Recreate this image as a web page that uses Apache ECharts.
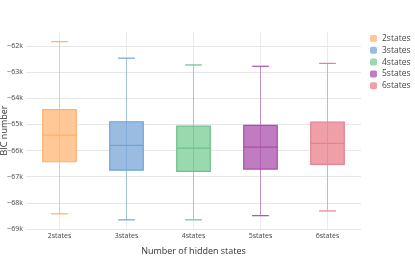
<!DOCTYPE html>
<html><head><meta charset="utf-8">
<script src="https://cdn.jsdelivr.net/npm/echarts@6/dist/echarts.min.js"></script>
<style>html,body{margin:0;padding:0;background:#fff}#c{width:415px;height:256px}</style>
</head><body><div id="c"></div>
<script>
const categories = ['2states','3states','4states','5states','6states'];
// [min, q1, median, q3, max]
const s2 = [-68420, -66430, -65410, -64440, -61840];
const s3 = [-68650, -66750, -65800, -64900, -62470];
const s4 = [-68650, -66800, -65910, -65070, -62730];
const s5 = [-68490, -66710, -65870, -65040, -62780];
const s6 = [-68310, -66530, -65730, -64910, -62670];
const yTicks = [-69000, -68000, -67000, -66000, -65000, -64000, -63000, -62000];
const stats = [s2, s3, s4, s5, s6];
const fills = ['#ffc896', '#9abce0', '#9ad8ae', '#c07cc0', '#ee9fa8'];
const strokes = ['#fdb070', '#6fa3d6', '#6cc08a', '#a850a8', '#e8808d'];

const chart = echarts.init(document.getElementById('c'), null, {renderer: 'canvas'});
const font = '"Open Sans", sans-serif';

function renderItem(params, api) {
  const x = api.value(0);
  const band = api.size([1, 0])[0];
  const bw = band * 0.5, cw = band * 0.25;
  const pMin = api.coord([x, api.value(1)]);
  const pQ1 = api.coord([x, api.value(2)]);
  const pMed = api.coord([x, api.value(3)]);
  const pQ3 = api.coord([x, api.value(4)]);
  const pMax = api.coord([x, api.value(5)]);
  const cx = pMin[0];
  const i = params.seriesIndex;
  const st = strokes[i];
  return {
    type: 'group',
    children: [
      {type: 'rect', shape: {x: cx - bw / 2, y: pQ3[1], width: bw, height: pQ1[1] - pQ3[1]},
        style: {fill: fills[i], stroke: st, lineWidth: 1.2}},
      {type: 'line', shape: {x1: cx, y1: pMax[1], x2: cx, y2: pMin[1]},
        style: {stroke: st, lineWidth: 1, opacity: 0.6}},
      {type: 'line', shape: {x1: cx - bw / 2, y1: pMed[1], x2: cx + bw / 2, y2: pMed[1]},
        style: {stroke: st, lineWidth: 1.2}},
      {type: 'line', shape: {x1: cx - cw / 2, y1: pMax[1], x2: cx + cw / 2, y2: pMax[1]},
        style: {stroke: st, lineWidth: 1.2}},
      {type: 'line', shape: {x1: cx - cw / 2, y1: pMin[1], x2: cx + cw / 2, y2: pMin[1]},
        style: {stroke: st, lineWidth: 1.2}}
    ]
  };
}

const series = categories.map((c, i) => ({
  name: c,
  type: 'custom',
  renderItem: renderItem,
  itemStyle: {color: fills[i]},
  encode: {x: 0, y: [1, 2, 3, 4, 5]},
  data: [[i].concat(stats[i])]
}));

chart.setOption({
  animation: false,
  textStyle: {fontFamily: font},
  grid: {left: 26, right: 54, top: 32, bottom: 27, containLabel: false, outerBoundsMode: 'none'},
  legend: {
    orient: 'vertical', left: 365, top: 29,
    itemWidth: 7, itemHeight: 7, itemGap: 2.8, icon: 'roundRect',
    textStyle: {fontSize: 8.5, color: '#444', fontFamily: font},
    data: categories
  },
  xAxis: {
    type: 'category', data: categories,
    name: 'Number of hidden states', nameLocation: 'middle', nameGap: 18,
    nameMoveOverlap: false,
    nameTextStyle: {fontSize: 9, color: '#333', fontFamily: font},
    axisLine: {show: false}, axisTick: {show: false, alignWithLabel: true},
    axisLabel: {fontSize: 7, color: '#444', margin: 3, fontFamily: font},
    splitLine: {show: true, alignWithLabel: true, lineStyle: {color: '#ebebeb', width: 1}}
  },
  yAxis: {
    type: 'value', min: -69000, max: -61470, interval: 1000,
    name: 'BIC number', nameLocation: 'middle', nameGap: 17,
    nameMoveOverlap: false,
    nameTextStyle: {fontSize: 9, color: '#333', fontFamily: font},
    axisLine: {show: false}, axisTick: {show: false},
    axisLabel: {fontSize: 7, color: '#444', margin: 3, showMaxLabel: false, fontFamily: font,
      formatter: v => yTicks.indexOf(v) >= 0 ? '\u2212' + Math.abs(v / 1000) + 'k' : ''},
    splitLine: {show: true, showMaxLine: false, lineStyle: {color: '#e6e6e6', width: 1}}
  },
  series: series
});
</script></body></html>
